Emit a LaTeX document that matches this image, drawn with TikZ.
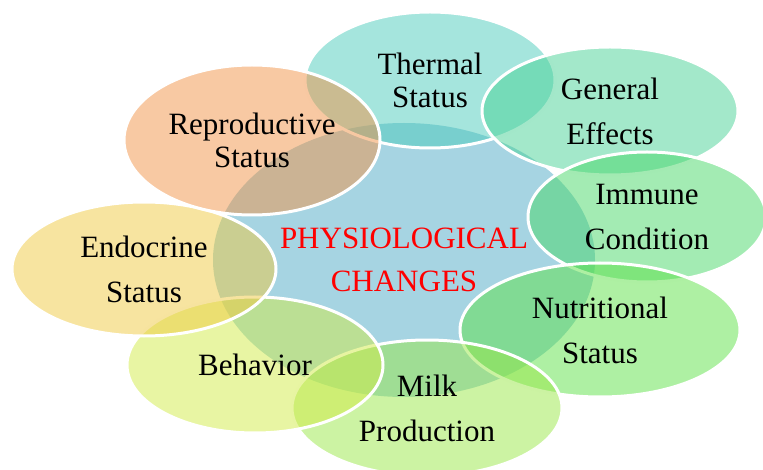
\documentclass[tikz,border=0pt]{standalone}
\usepackage{fontspec}
\setmainfont{Liberation Serif}
\usetikzlibrary{shapes.geometric}
\definecolor{centreblue}{RGB}{166,212,226}
\definecolor{thermalc}{RGB}{75,203,187}
\definecolor{generalc}{RGB}{71,209,149}
\definecolor{immunec}{RGB}{71,215,103}
\definecolor{nutritionc}{RGB}{93,225,71}
\definecolor{milkc}{RGB}{153,231,71}
\definecolor{behaviorc}{RGB}{209,235,71}
\definecolor{endocrinec}{RGB}{239,201,65}
\definecolor{reproductivec}{RGB}{241,147,71}
\tikzstyle{centre} = [ellipse, fill=centreblue, minimum width=382pt, minimum height=274pt, inner sep=0pt, align=center, text=red, font=\fontsize{31}{43}\selectfont]
\tikzstyle{bubble} = [ellipse, draw=white, line width=3pt, fill opacity=0.5, draw opacity=1, text opacity=1, inner sep=0pt, align=center, text=black, font=\fontsize{31}{45}\selectfont]
\tikzstyle{tight} = [font=\fontsize{31}{33}\selectfont]

\begin{document}
\begin{tikzpicture}[x=1pt, y=-1pt]
		\useasboundingbox (0,0) rectangle (763,470);
		\node (physio) [centre] at (404,260) {PHYSIOLOGICAL\\CHANGES};
		\node (thermal) [bubble, tight, fill=thermalc, minimum width=250pt, minimum height=136pt] at (430,80) {Thermal\\Status};
		\node (general) [bubble, fill=generalc, minimum width=256pt, minimum height=128pt] at (610,111) {General\\Effects};
		\node (immune) [bubble, fill=immunec, minimum width=238pt, minimum height=130pt] at (647,217) {Immune\\Condition};
		\node (nutrition) [bubble, fill=nutritionc, minimum width=280pt, minimum height=134pt] at (600,330) {Nutritional\\Status};
		\node (milk) [bubble, fill=milkc, minimum width=270pt, minimum height=136pt] at (427,408) {Milk\\Production};
		\node (behavior) [bubble, fill=behaviorc, minimum width=256pt, minimum height=136pt] at (255,365) {Behavior};
		\node (endocrine) [bubble, fill=endocrinec, minimum width=264pt, minimum height=134pt] at (144,269) {Endocrine\\Status};
		\node (reproductive) [bubble, tight, fill=reproductivec, minimum width=256pt, minimum height=150pt] at (252,140) {Reproductive\\Status};
	\end{tikzpicture}
\end{document}
